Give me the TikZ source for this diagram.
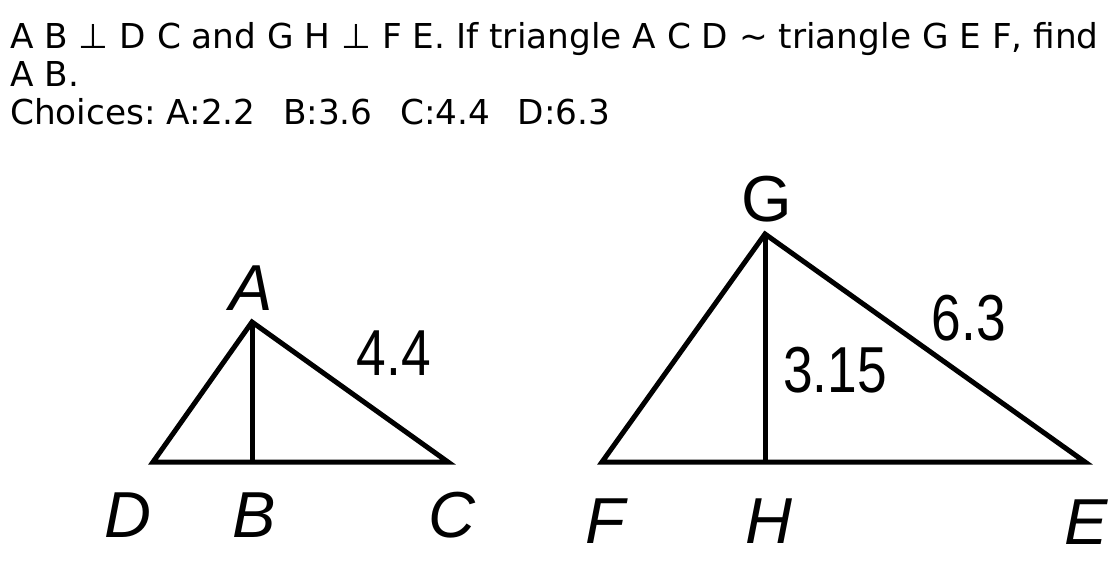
\documentclass[tikz,border=0pt]{standalone}
\usepackage{fontspec}
\setmainfont{DejaVu Sans}
\newfontfamily\labfont{Liberation Sans}
\frenchspacing
\newcommand{\chgap}{\hspace{0.8em}}
\begin{document}
\begin{tikzpicture}[x=1pt,y=-1pt,
  hdr/.style={anchor=base west,inner sep=0pt,font=\frenchspacing\fontsize{34.3}{39}\selectfont},
  ptlab/.style={anchor=base,inner sep=0pt,font=\labfont\itshape\fontsize{65}{70}\selectfont},
  ptlabup/.style={anchor=base,inner sep=0pt,font=\labfont\fontsize{65}{70}\selectfont},
  numlab/.style={anchor=base,inner sep=0pt,xscale=0.82,font=\labfont\fontsize{65}{70}\selectfont},
  edge/.style={line width=5pt,line join=miter}]
\useasboundingbox (0,0) rectangle (1119,560);
% header text
\node[hdr] (l1) at (10,48) {A B ⊥ D C and G H ⊥ F E. If triangle A C D ∼ triangle G E F, find};
\node[hdr] (l2) at (10,86) {A B.};
\node[hdr] (l3) at (10,124) {Choices: A:2.2\chgap B:3.6\chgap C:4.4\chgap D:6.3};
% left triangle
\coordinate (A) at (252,322);
\coordinate (D) at (153,462);
\coordinate (C) at (448,462);
\coordinate (B) at (252,462);
\draw[edge] (D) -- (A) -- (C) -- cycle;
\draw[edge] (A) -- (B);
\node[ptlab] (lA) at (251,310) {A};
\node[ptlab] (lD) at (128,537) {D};
\node[ptlab] (lB) at (254,537) {B};
\node[ptlab] (lC) at (452,537) {C};
\node[numlab] (n44) at (394,375) {4.4};
% right triangle
\coordinate (G) at (765,234);
\coordinate (F) at (602,462);
\coordinate (E) at (1085,462);
\coordinate (H) at (765,462);
\draw[edge] (F) -- (G) -- (E) -- cycle;
\draw[edge] (G) -- (H);
\node[ptlabup] (lG) at (767,221) {G};
\node[ptlab] (lF) at (605,543) {F};
\node[ptlab] (lH) at (769,543) {H};
\node[ptlab] (lE) at (1086,544) {E};
\node[numlab] (n315) at (835,392) {3.15};
\node[numlab] (n63) at (969,340) {6.3};
\end{tikzpicture}
\end{document}
